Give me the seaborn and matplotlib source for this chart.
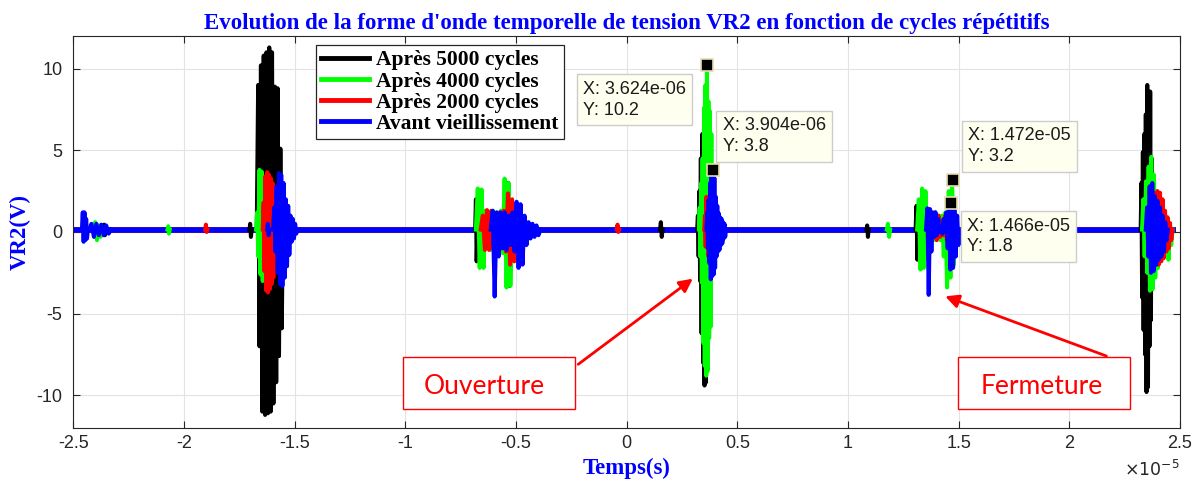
import numpy as np
import pandas as pd
import seaborn as sns
import matplotlib.pyplot as plt
from matplotlib.lines import Line2D
from matplotlib.patches import Rectangle
from matplotlib.ticker import FuncFormatter

plt.rcParams['axes.unicode_minus'] = False
plt.rcParams['path.simplify'] = False   # keep the dense zig-zags solid
plt.rcParams['font.family'] = ['Liberation Sans', 'DejaVu Sans']

# time in units of 1e-5 s, voltage in V
T_START, T_END = -2.5, 2.47
BASE = 0.15

series_names = ['Après 5000 cycles', 'Après 4000 cycles', 'Après 2000 cycles', 'Avant vieillissement']
series_colors = ['#000000', '#00FF00', '#FF0000', '#0000FF']

# each burst: (start, end, successive oscillation peaks)
black_bursts = [
    (-2.365, -2.355, [0.45, -0.2]),
    (-1.705, -1.695, [0.5, -0.3]),
    (-1.672, -1.540, [9.0, -7.0, 10.2, -11.0, 10.8, -11.2, 11.0, -11.1, 11.3, -11.0,
                      11.0, -10.5, 8.9, -9.2, 8.8, -7.6, 5.1, -5.9, 2.2, -2.7]),
    (-0.685, -0.675, [2.0, -1.8]),
    (-0.550, -0.515, [1.0, -0.8, 3.0, -3.3, 1.0, -0.5]),
    (0.150, 0.162, [0.6, -0.3]),
    (0.318, 0.368, [1.0, -1.5, 2.5, -3.0, 4.5, -6.2, 6.0, -8.0, 5.5, -9.4, 4.0, -9.2, 2.0, -3.0]),
    (1.083, 1.093, [0.4, -0.3]),
    (1.305, 1.325, [1.6, -1.7, 1.2, -1.0]),
    (2.322, 2.385, [3.0, -4.0, 4.9, -6.0, 6.0, -7.5, 7.2, -9.8, 9.0, -9.5, 8.0, -7.0,
                    8.6, -5.4, 4.5, -3.0, 2.0, -1.0]),
]
green_bursts = [
    (-2.410, -2.370, [0.6, -0.5, 0.4, -0.3]),
    (-2.075, -2.065, [0.35, -0.1]),
    (-1.675, -1.600, [1.2, -1.5, 3.8, -2.6, 3.7, -3.0, 3.2, -2.8, 2.8, -2.5, 2.2, -2.0, 1.5, -1.2]),
    (-0.682, -0.500, [2.66, -2.2, 2.6, -2.2, 1.3, -1.0, 1.2, -1.1, 1.3, -1.0, 1.2, -1.2,
                      1.3, -1.3, 3.27, -3.4, 3.0, -3.3, 0.6, -0.5]),
    (0.326, 0.402, [1.5, -1.5, 3.0, -3.1, 4.5, -6.8, 7.6, -8.2, 9.0, -8.8, 10.2, -8.5,
                    8.0, -6.5, 7.4, -5.8, 6.0, -2.7, 3.4, -2.0, 1.0, -0.5]),
    (1.175, 1.190, [0.5, -0.3]),
    (1.312, 1.500, [2.0, -2.3, 2.66, -2.2, 2.5, -1.5, 1.2, -0.8, 1.0, -0.5, 1.2, -0.3,
                    1.0, -0.5, 1.0, -1.5, 1.2, -3.4, 2.5, -2.8, 3.2, -2.0, 1.0, -0.5]),
    (2.328, 2.466, [2.0, -1.5, 3.1, -2.5, 4.0, -3.6, 4.6, -3.5, 3.5, -2.8, 2.5, -2.2,
                    1.5, -1.5, 1.2, -1.0, 1.0, -1.2, 0.8, -1.7, 0.5, -0.8]),
]
red_bursts = [
    (-1.905, -1.895, [0.45, 0.0]),
    (-1.645, -1.585, [1.8, -2.4, 3.4, -3.6, 3.66, -3.7, 3.5, -3.5, 3.3, -3.2, 3.0, -2.8, 2.0, -1.5]),
    (-0.660, -0.480, [1.0, -1.1, 1.34, -1.1, 1.3, -1.0, 1.1, -0.9, 1.2, -1.0, 1.3, -1.2,
                      2.36, -2.0, 2.0, -1.8, 0.8, -0.6]),
    (-0.045, -0.035, [0.45, 0.0]),
    (0.350, 0.385, [1.0, -0.9, 2.15, -0.9, 2.0, -1.5, 1.8, -1.2, 1.0, -0.5]),
    (1.370, 1.500, [1.2, -0.3, 1.2, -0.5, 1.0, -0.3, 0.5, -0.2, 1.0, -0.5, 1.2, -1.1,
                    0.7, -1.1, 0.7, -0.8]),
    (2.370, 2.466, [1.5, -1.5, 2.4, -2.0, 2.5, -2.0, 2.4, -1.8, 2.0, -1.6, 1.3, -1.2,
                    0.9, -1.0, 0.55, -0.5]),
]
blue_bursts = [
    (-2.462, -2.435, [1.2, -0.6, 1.2, -0.5, 0.8, -0.4]),
    (-2.430, -2.330, [0.5, -0.3, 0.5, -0.2, 0.45, -0.2, 0.4, -0.1]),
    (-1.625, -1.615, [0.5, -0.2]),
    (-1.598, -1.488, [1.5, -1.2, 2.8, -2.5, 3.6, -3.2, 3.5, -3.3, 3.0, -2.8, 2.0, -2.1,
                      1.6, -1.4, 1.0, -0.6, 0.8, -0.4, 0.5, -0.1]),
    (-0.615, -0.390, [1.3, -3.95, 1.2, -1.5, 1.2, -1.0, 1.2, -1.1, 1.0, -0.8, 1.2, -1.2,
                      1.85, -2.2, 1.7, -2.0, 1.0, -0.8, 0.6, -0.4, 0.5, -0.3, 0.4, -0.2]),
    (0.360, 0.448, [1.2, -1.0, 1.95, -1.9, 3.0, -2.9, 3.4, -2.7, 3.8, -2.6, 3.3, -2.2,
                    2.15, -1.5, 1.6, -1.2, 1.15, -1.1, 0.9, -0.8, 0.8, -0.7, 0.6, -0.4, 0.5, -0.3]),
    (1.352, 1.505, [1.45, -3.85, 1.4, -1.2, 1.2, -0.3, 1.2, -0.2, 0.8, 0.0, 0.3, -0.1,
                    0.8, 0.0, 1.2, -1.0, 1.3, -2.3, 1.8, -2.2, 1.34, -1.5, 1.0, -0.8]),
    (2.345, 2.445, [1.5, -1.5, 2.8, -2.5, 3.0, -2.4, 2.2, -2.0, 1.9, -1.7, 1.5, -1.5,
                    1.0, -1.2, 0.6, -0.5]),
]
all_bursts = [black_bursts, green_bursts, red_bursts, blue_bursts]

# data tips
tip_x = [3.624e-06, 3.904e-06, 1.472e-05, 1.466e-05]
tip_y = [10.2, 3.8, 3.2, 1.8]

# build long table: baseline pieces + bursts
rows = []
for name, bursts in zip(series_names, all_bursts):
    prev = T_START
    for i, (t0, t1, peaks) in enumerate(bursts):
        rows += [(prev, BASE, name, f'b{i}', 'base'), (t0, BASE, name, f'b{i}', 'base')]
        tt = np.linspace(t0, t1, len(peaks) + 2)
        vv = [BASE] + peaks + [BASE]
        rows += [(t, v, name, f'p{i}', 'burst') for t, v in zip(tt, vv)]
        prev = t1
    rows += [(prev, BASE, name, 'end', 'base'), (T_END, BASE, name, 'end', 'base')]
df = pd.DataFrame(rows, columns=['t', 'v', 'serie', 'seg', 'kind'])
df['t'] = df['t'] * 1e-5

fig = plt.figure(figsize=(11.99, 4.79), dpi=100)
ax = fig.add_axes([0.0613, 0.1065, 0.9229, 0.8184])

sns.lineplot(data=df[df.kind == 'base'], x='t', y='v', hue='serie', hue_order=series_names,
             palette=series_colors, units='seg', estimator=None, sort=False,
             lw=4, legend=False, ax=ax, zorder=2)
sns.lineplot(data=df[df.kind == 'burst'], x='t', y='v', hue='serie', hue_order=series_names,
             palette=series_colors, units='seg', estimator=None, sort=False,
             lw=2.9, legend=False, ax=ax, zorder=3)

# axes styling (matlab look)
ax.set_xlim(-2.5e-5, 2.5e-5)
ax.set_ylim(-12, 12)
ax.set_xticks(np.arange(-2.5, 2.51, 0.5) * 1e-5)
ax.set_yticks([-10, -5, 0, 5, 10])
ax.xaxis.set_major_formatter(FuncFormatter(lambda v, p: f'{v * 1e5:g}'))
ax.tick_params(direction='in', top=True, right=True, length=5, width=0.8,
               color='#262626', labelcolor='#262626', labelsize=13)
ax.tick_params(axis='x', pad=5)
ax.tick_params(axis='y', pad=8)
ax.grid(True, color='#E3E3E3', lw=0.8)
ax.set_axisbelow(True)
for sp in ax.spines.values():
    sp.set_color('#262626')
    sp.set_linewidth(0.8)

serif = dict(family='Liberation Serif', weight='bold', color='#0000FF')
ax.set_title("Evolution de la forme d'onde temporelle de tension VR2 en fonction de cycles répétitifs",
             fontsize=16.5, pad=5, **serif)
ax.set_xlabel('Temps(s)', fontsize=16.5, **serif)
ax.set_ylabel('VR2(V)', fontsize=16.5, **serif)
ax.xaxis.set_label_coords(0.5, -0.075)
ax.yaxis.set_label_coords(-0.039, 0.5)
ax.text(1.0, -0.105, r'$\times10^{-5}$', transform=ax.transAxes, ha='right', va='center',
        fontsize=12.5, color='#262626')

# legend
handles = [Line2D([], [], color=c, lw=3.5) for c in series_colors]
leg = ax.legend(handles, series_names, loc='upper left', bbox_to_anchor=(0.2192, 0.977),
                borderaxespad=0, handlelength=2.2, handletextpad=0.35, labelspacing=0.05,
                borderpad=0.25, frameon=True, fancybox=False, framealpha=1,
                prop=dict(family='Liberation Serif', weight='bold', size=15.5))
leg.get_frame().set_edgecolor('#262626')
leg.get_frame().set_linewidth(0.9)

# data tips
ax.plot(tip_x, tip_y, 's', ms=8.5, mfc='black', mec='#E6DDB0', mew=1.2, zorder=6)
tip_pos = [(0.4605, 0.8375), (0.5866, 0.7441), (0.8084, 0.7184), (0.8075, 0.4885)]
for (x, y), (px, py) in zip(zip(tip_x, tip_y), tip_pos):
    ax.text(px, py, f'X: {x:.4g}\nY: {y:.3g}', transform=ax.transAxes, ha='left', va='center',
            fontsize=13, color='#1A1A1A', linespacing=1.3, zorder=7,
            bbox=dict(boxstyle='square,pad=0.35', fc='#FFFFF0', ec='#CCCCCC', lw=1))

# annotation boxes with arrows
for label, (x0, x1), tx, (a0, a1) in [
        ('Ouverture', (0.2978, 0.4534), 0.371, ((0.4541, 0.1582), (0.5617, 0.3852))),
        ('Fermeture', (0.7996, 0.9552), 0.8748, ((0.9358, 0.1811), (0.7854, 0.3383)))]:
    ax.add_patch(Rectangle((x0, 0.0472), x1 - x0, 0.1344, transform=ax.transAxes,
                           fc='white', ec='#FF0000', lw=1, zorder=6))
    ax.text(tx, 0.107, label, transform=ax.transAxes, ha='center', va='center',
            fontsize=19, color='#FF0000', family='Lato', zorder=7)
    ax.annotate('', xy=a1, xytext=a0, xycoords='axes fraction', textcoords='axes fraction',
                arrowprops=dict(arrowstyle='-|>', color='#FF0000', lw=2, mutation_scale=20),
                zorder=7)

fig.savefig('out.png', dpi=100)
